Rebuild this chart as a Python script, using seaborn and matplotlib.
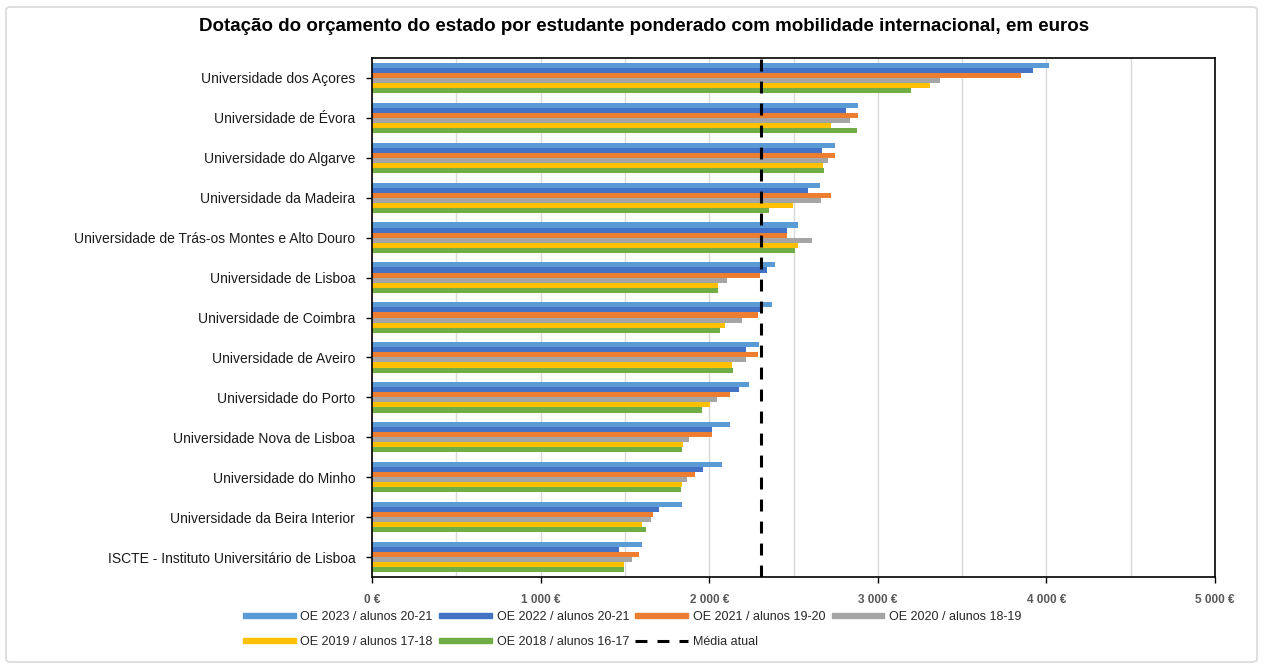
import pandas as pd
import matplotlib.pyplot as plt
import matplotlib.ticker as mticker
from matplotlib.lines import Line2D
from matplotlib.patches import FancyBboxPatch
import seaborn as sns

universidades = [
    "Universidade dos Açores",
    "Universidade de Évora",
    "Universidade do Algarve",
    "Universidade da Madeira",
    "Universidade de Trás-os Montes e Alto Douro",
    "Universidade de Lisboa",
    "Universidade de Coimbra",
    "Universidade de Aveiro",
    "Universidade do Porto",
    "Universidade Nova de Lisboa",
    "Universidade do Minho",
    "Universidade da Beira Interior",
    "ISCTE - Instituto Universitário de Lisboa",
]

series = [
    "OE 2023 / alunos 20-21",
    "OE 2022 / alunos 20-21",
    "OE 2021 / alunos 19-20",
    "OE 2020 / alunos 18-19",
    "OE 2019 / alunos 17-18",
    "OE 2018 / alunos 16-17",
]

oe_2023 = [4016, 2881, 2746, 2659, 2524, 2389, 2370, 2294, 2237, 2126, 2077, 1836, 1599]
oe_2022 = [3921, 2812, 2672, 2587, 2463, 2344, 2304, 2219, 2176, 2016, 1966, 1705, 1466]
oe_2021 = [3852, 2881, 2746, 2722, 2463, 2300, 2290, 2290, 2124, 2016, 1915, 1664, 1583]
oe_2020 = [3370, 2836, 2706, 2664, 2608, 2103, 2192, 2219, 2047, 1879, 1866, 1654, 1540]
oe_2019 = [3312, 2725, 2677, 2495, 2529, 2053, 2091, 2134, 2002, 1844, 1840, 1599, 1496]
oe_2018 = [3198, 2878, 2680, 2357, 2508, 2053, 2067, 2142, 1960, 1836, 1830, 1628, 1496]

media_atual = 2305

cores = ["#5B9BD5", "#4472C4", "#ED7D31", "#A5A5A5", "#FFC000", "#70AD47"]

valores = [oe_2023, oe_2022, oe_2021, oe_2020, oe_2019, oe_2018]
linhas = []
for nome, vals in zip(series, valores):
    for uni, v in zip(universidades, vals):
        linhas.append({"universidade": uni, "serie": nome, "valor": v})
df = pd.DataFrame(linhas)

sns.set_style("white")
plt.rcParams["font.family"] = ["Liberation Sans", "DejaVu Sans"]

fig = plt.figure(figsize=(12.68, 6.72), dpi=100)
ax = fig.add_axes([372 / 1268, 1 - 577 / 672, (1215 - 372) / 1268, (577 - 58) / 672])

sns.barplot(data=df, y="universidade", x="valor", hue="serie", orient="h",
            order=universidades, hue_order=series, palette=cores,
            width=0.76, errorbar=None, saturation=1, linewidth=0,
            ax=ax, legend=False)

tracejado = (0, (3.9, 3.3))
ax.axvline(media_atual, color="black", linestyle=tracejado, linewidth=2.2, zorder=5)

ax.set_xlim(0, 5000)
ax.xaxis.set_major_locator(mticker.MultipleLocator(1000))
ax.xaxis.set_minor_locator(mticker.MultipleLocator(500))
ax.xaxis.set_major_formatter(mticker.FuncFormatter(
    lambda v, p: "0 €" if v == 0 else f"{int(v):,} €".replace(",", " ")))
ax.grid(axis="x", which="both", color="#D9D9D9", linewidth=1)
ax.set_axisbelow(True)
ax.set_xlabel("")
ax.set_ylabel("")

for s in ax.spines.values():
    s.set_color("black")
    s.set_linewidth(1.2)

ax.tick_params(axis="x", which="major", bottom=True, length=4, width=1, color="black",
               labelsize=8.5, labelcolor="#595959", pad=8)
ax.tick_params(axis="x", which="minor", length=0)
ax.tick_params(axis="y", left=True, length=4, width=1, color="black",
               labelsize=10, labelcolor="#1a1a1a", pad=8)
for lbl in ax.get_xticklabels():
    lbl.set_fontweight("bold")

fig.text(0.508, 0.960,
         "Dotação do orçamento do estado por estudante ponderado com mobilidade internacional, em euros",
         ha="center", va="center", fontsize=13.5, fontweight="bold", color="black")

h_series = [plt.Rectangle((0, 0), 1, 1, color=c) for c in cores]
h_media = Line2D([0], [0], color="black", linestyle=tracejado, linewidth=2.2)

leg_kw = dict(frameon=False, fontsize=9, handlelength=4.2, handleheight=0.35,
              handletextpad=0.4, columnspacing=0.5, borderaxespad=0)
leg1 = fig.legend(h_series[:4], series[:4], ncol=4, loc="center left",
                  bbox_to_anchor=(238 / 1268, 1 - 617 / 672), **leg_kw)
leg2 = fig.legend(h_series[4:] + [h_media], series[4:] + ["Média atual"], ncol=3,
                  loc="center left", bbox_to_anchor=(238 / 1268, 1 - 642 / 672), **leg_kw)

borda = FancyBboxPatch((6 / 1268, 10 / 672), 1251 / 1268, 655 / 672,
                       boxstyle="round,pad=0,rounding_size=0.004",
                       transform=fig.transFigure, fill=False,
                       edgecolor="#D9D9D9", linewidth=1.2)
fig.patches.append(borda)

fig.savefig("out.png", dpi=100)
